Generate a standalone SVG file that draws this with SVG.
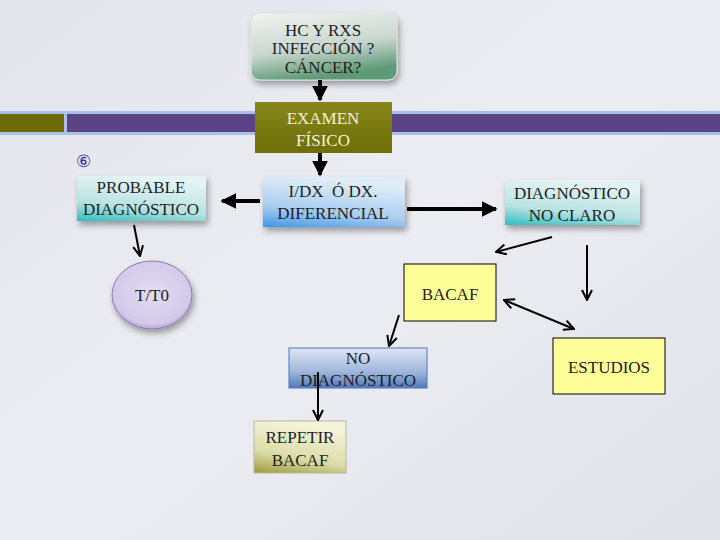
<svg xmlns="http://www.w3.org/2000/svg" width="720" height="540" viewBox="0 0 720 540">
<defs>
<linearGradient id="bg" x1="0" y1="0" x2="1" y2="1"><stop offset="0" stop-color="#e4e4ec"/><stop offset="0.5" stop-color="#ececf3"/><stop offset="1" stop-color="#e2e2ea"/></linearGradient>
<linearGradient id="gHC" x1="0" y1="0" x2="0.3" y2="1"><stop offset="0" stop-color="#f2f4f2"/><stop offset="0.6" stop-color="#c9d6cf"/><stop offset="1" stop-color="#5f9a78"/></linearGradient>
<linearGradient id="gOl" x1="0" y1="0" x2="0" y2="1"><stop offset="0" stop-color="#86861a"/><stop offset="1" stop-color="#6e6e08"/></linearGradient>
<linearGradient id="gTeal" x1="0.3" y1="0" x2="0" y2="1"><stop offset="0" stop-color="#e4f3f3"/><stop offset="0.6" stop-color="#b9e2e2"/><stop offset="1" stop-color="#2fbdbd"/></linearGradient>
<linearGradient id="gBlue" x1="0.3" y1="0" x2="0" y2="1"><stop offset="0" stop-color="#e0edf9"/><stop offset="0.6" stop-color="#a9cdf0"/><stop offset="1" stop-color="#3e97e6"/></linearGradient>
<linearGradient id="gNo" x1="0" y1="0" x2="0" y2="1"><stop offset="0" stop-color="#dfe6f3"/><stop offset="0.6" stop-color="#9fb6dc"/><stop offset="1" stop-color="#4f79bb"/></linearGradient>
<linearGradient id="gRep" x1="0.3" y1="0" x2="0" y2="1"><stop offset="0" stop-color="#f4f4da"/><stop offset="0.6" stop-color="#dcdcaa"/><stop offset="1" stop-color="#9a9a3a"/></linearGradient>
<radialGradient id="gEl" cx="0.5" cy="0.45" r="0.6"><stop offset="0" stop-color="#e2dcf0"/><stop offset="0.8" stop-color="#d3c9ea"/><stop offset="1" stop-color="#9d8fbf"/></radialGradient>
<filter id="sh" x="-20%" y="-20%" width="150%" height="160%"><feDropShadow dx="2" dy="4" stdDeviation="3" flood-color="#000" flood-opacity="0.35"/></filter>
<marker id="ah" viewBox="0 0 10 10" refX="9" refY="5" markerWidth="4" markerHeight="4" orient="auto-start-reverse"><path d="M0,0 L10,5 L0,10 Z" fill="#000"/></marker>
<marker id="ao" viewBox="0 0 12 12" refX="11" refY="6" markerWidth="6" markerHeight="6" markerUnits="strokeWidth" orient="auto-start-reverse"><path d="M1,1 L11,6 L1,11" fill="none" stroke="#000" stroke-width="2"/></marker>
</defs>
<style>
text{font-family:"Liberation Serif",serif;text-anchor:middle;fill:#1e1e1e;font-size:17px}
.thick{stroke:#000;stroke-width:4;fill:none}
.thin{stroke:#000;stroke-width:2;fill:none}
.yel{fill:#ffff99;stroke:#000;stroke-width:1}
</style>
<rect width="720" height="540" fill="url(#bg)"/>
<rect x="0" y="111" width="720" height="24" fill="#a9c1e2"/>
<rect x="0" y="114" width="64" height="18" fill="#6b6b0a"/>
<rect x="67" y="114" width="653" height="18" fill="#5a4486"/>

<g id="n-hc"><rect x="251" y="13" width="146" height="67" rx="9" fill="url(#gHC)" filter="url(#sh)" stroke="#dfe6e2" stroke-width="1"/>
<text x="323" y="36" font-size="15">HC Y RXS</text><text x="323" y="54" font-size="15">INFECCIÓN ?</text><text x="323" y="73" font-size="15">CÁNCER?</text></g>

<g id="n-examen"><rect x="255" y="102" width="137" height="51" fill="url(#gOl)"/>
<text x="323" y="124" style="fill:#f4f2d8" font-size="18">EXAMEN</text><text x="323" y="146" style="fill:#f4f2d8" font-size="18">FÍSICO</text></g>

<g id="n-probable"><rect x="77" y="176" width="129" height="45" fill="url(#gTeal)" filter="url(#sh)"/>
<text x="141" y="193">PROBABLE</text><text x="141" y="215">DIAGNÓSTICO</text></g>
<text x="83" y="167" style="fill:#3030a0" font-size="12" font-family="DejaVu Sans, sans-serif">⑥</text>

<g id="n-idx"><rect x="263" y="177" width="142" height="50" fill="url(#gBlue)" filter="url(#sh)"/>
<text x="333" y="197" xml:space="preserve">I/DX  Ó DX.</text><text x="333" y="219">DIFERENCIAL</text></g>

<g id="n-noclaro"><rect x="505" y="180" width="135" height="45" fill="url(#gTeal)" filter="url(#sh)"/>
<text x="572" y="199">DIAGNÓSTICO</text><text x="572" y="221">NO CLARO</text></g>

<g id="n-tt0"><ellipse cx="152" cy="295" rx="40" ry="34" fill="url(#gEl)" stroke="#8a7cab" stroke-width="1" filter="url(#sh)"/>
<text x="152" y="301">T/T0</text></g>

<g id="n-bacaf"><rect x="404" y="264" width="92" height="57" class="yel"/><text x="450" y="300">BACAF</text></g>

<g id="n-estudios"><rect x="553" y="338" width="112" height="56" class="yel"/><text x="609" y="373">ESTUDIOS</text></g>

<g id="n-nodiag"><rect x="289" y="348" width="138" height="40" fill="url(#gNo)" stroke="#4a78b8" stroke-width="1"/>
<text x="358" y="364">NO</text><text x="358" y="386">DIAGNÓSTICO</text></g>

<g id="n-repetir"><rect x="254" y="421" width="92" height="52" fill="url(#gRep)" stroke="#b8b89a" stroke-width="1"/>
<text x="300" y="443">REPETIR</text><text x="300" y="466">BACAF</text></g>

<g id="connectors">
<line x1="320" y1="80" x2="320" y2="100" class="thick" marker-end="url(#ah)"/>
<line x1="320" y1="153" x2="320" y2="175" class="thick" marker-end="url(#ah)"/>
<line x1="260" y1="201" x2="222" y2="201" class="thick" marker-end="url(#ah)"/>
<line x1="407" y1="209" x2="496" y2="209" class="thick" marker-end="url(#ah)"/>
<line x1="552" y1="237" x2="496" y2="252" class="thin" marker-end="url(#ao)"/>
<line x1="587" y1="245" x2="587" y2="300" class="thin" marker-end="url(#ao)"/>
<line x1="504" y1="300" x2="574" y2="329" class="thin" marker-start="url(#ao)" marker-end="url(#ao)"/>
<line x1="399" y1="315" x2="389" y2="346" class="thin" marker-end="url(#ao)"/>
<line x1="318" y1="372" x2="318" y2="420" class="thin" marker-end="url(#ao)"/>
<line x1="134" y1="225" x2="140" y2="256" class="thin" marker-end="url(#ao)"/>
</g>
</svg>
